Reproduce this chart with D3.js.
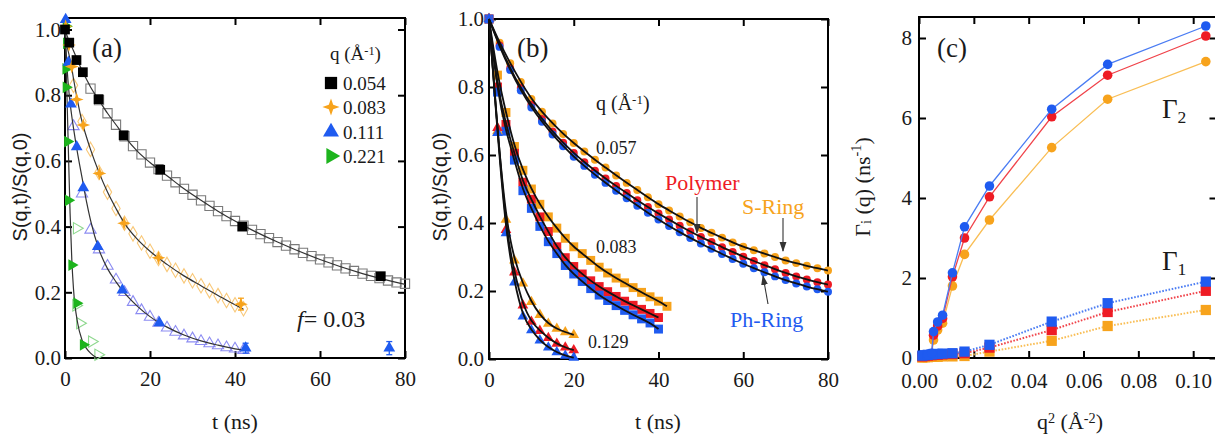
<!DOCTYPE html>
<html><head><meta charset="utf-8">
<script src="https://cdn.jsdelivr.net/npm/d3@7"></script>
<style>body{margin:0;background:#fff}svg{display:block}</style>
</head><body><svg id="c" width="1215" height="438"></svg>
<script>
// ---------------- Panel (a) data ----------------
const aQLabels = ["0.054", "0.083", "0.111", "0.221"];
const aXTicks = [0, 20, 40, 60, 80];
const aYTicks = [0, 0.2, 0.4, 0.6, 0.8, 1.0];
// q = 0.054
const a054FilledT = [0, 1.0, 2.7, 4.2, 7.9, 13.8, 22.4, 41.7, 74.3];
const a054FilledV = [1.0, 0.96, 0.907, 0.87, 0.788, 0.678, 0.573, 0.40, 0.249];
const a054OpenT = [6,8,10,12,14,16,18,20,22,24,26,28,30,32,34,36,38,40,42,44,46,48,50,52,54,56,58,60,62,64,66,68,70,72,74,76,78,80];
const a054OpenV = [0.82,0.785,0.745,0.71,0.675,0.645,0.62,0.595,0.575,0.555,0.535,0.515,0.497,0.48,0.463,0.447,0.432,0.417,0.403,0.39,0.377,0.365,0.353,0.342,0.331,0.32,0.31,0.30,0.291,0.282,0.273,0.265,0.257,0.25,0.243,0.236,0.23,0.226];
// q = 0.083
const a083FilledT = [0.15, 0.94, 1.6, 2.75, 4.3, 8.1, 13.9, 22, 41.4];
const a083FilledV = [1.01, 0.953, 0.887, 0.787, 0.709, 0.562, 0.41, 0.305, 0.164];
const a083OpenT = [2,4,6,8,10,12,14,16,18,20,22,24,26,28,30,32,34,36,38,40,42];
const a083OpenV = [0.83,0.72,0.635,0.565,0.505,0.455,0.41,0.378,0.35,0.325,0.303,0.285,0.267,0.25,0.235,0.22,0.205,0.19,0.175,0.162,0.15];
// q = 0.111
const a111FilledT = [0.15, 0.8, 1.4, 2.75, 4.3, 7.7, 13.5, 22.2, 42.5, 76.3];
const a111FilledV = [1.03, 0.90, 0.773, 0.643, 0.518, 0.339, 0.207, 0.107, 0.03, 0.03];
const a111OpenT = [2,4,6,8,10,12,14,16,18,20,22,24,26,28,30,32,34,36,38,40,42];
const a111OpenV = [0.705,0.50,0.39,0.33,0.28,0.238,0.2,0.17,0.145,0.125,0.107,0.092,0.079,0.068,0.059,0.051,0.044,0.038,0.032,0.028,0.024];
// q = 0.221
const a221FilledT = [0.25, 0.35, 0.2, 0.25, 0.6, 0.8, 1.6, 2.75, 4.3];
const a221FilledV = [1.01, 0.958, 0.88, 0.824, 0.659, 0.48, 0.283, 0.167, 0.04];
const a221OpenT = [2.75, 2.6, 3.5, 6.3, 7.8];
const a221OpenV = [0.395, 0.16, 0.106, 0.05, 0.01];
// fit curves
const aFit054T = [0,0.5,1,1.5,2,3,4,5,6,8,10,12,14,17,20,24,28,32,36,40,42,50,60,70,80];
const aFit054V = [1,0.98,0.965,0.95,0.935,0.905,0.875,0.85,0.825,0.785,0.745,0.71,0.675,0.63,0.595,0.555,0.515,0.48,0.447,0.417,0.403,0.353,0.30,0.257,0.224];
const aFit083T = [0,0.5,1,1.5,2,3,4,5,6,8,10,12,14,17,20,24,28,32,36,40,42];
const aFit083V = [1,0.95,0.92,0.89,0.85,0.78,0.72,0.675,0.635,0.565,0.505,0.455,0.41,0.362,0.325,0.285,0.25,0.22,0.19,0.162,0.148];
const aFit111T = [0,0.5,1,1.5,2,3,4,5,6,8,10,12,14,17,20,24,28,32,36,40,42];
const aFit111V = [1,0.88,0.80,0.745,0.70,0.62,0.55,0.48,0.42,0.33,0.272,0.232,0.198,0.158,0.126,0.094,0.07,0.052,0.039,0.028,0.024];
const aFit221T = [0,0.4,0.8,1.2,1.6,2,3,4,5,6,7.5];
const aFit221V = [1,0.83,0.63,0.44,0.3,0.21,0.105,0.055,0.03,0.015,0.0];
// error bars
const aErrT = [41.4, 42.5, 76.3];
const aErrV = [0.164, 0.03, 0.03];
const aErrE = [0.018, 0.015, 0.02];

// ---------------- Panel (b) data ----------------
const bSpecies = ["S-Ring", "Polymer", "Ph-Ring"];
const bQLabels = ["0.057", "0.083", "0.129"];
const bT057 = [0,2.5,5,7.5,10,12.5,15,17.5,20,22.5,25,27.5,30,32.5,35,37.5,40,42.5,45,47.5,50,52.5,55,57.5,60,62.5,65,67.5,70,72.5,75,77.5,80];
const bS057 = [1.0,0.93,0.87,0.815,0.765,0.727,0.693,0.662,0.635,0.61,0.586,0.563,0.54,0.518,0.497,0.476,0.455,0.437,0.419,0.402,0.385,0.371,0.357,0.343,0.33,0.32,0.31,0.30,0.29,0.282,0.274,0.267,0.26];
const bP057 = [1.0,0.922,0.855,0.797,0.748,0.706,0.669,0.636,0.606,0.579,0.554,0.531,0.509,0.488,0.467,0.447,0.428,0.41,0.392,0.375,0.359,0.344,0.329,0.315,0.301,0.288,0.276,0.264,0.253,0.243,0.234,0.226,0.219];
const bR057 = [1.0,0.918,0.85,0.79,0.74,0.698,0.66,0.626,0.595,0.568,0.542,0.518,0.495,0.473,0.451,0.43,0.41,0.391,0.373,0.356,0.34,0.324,0.309,0.294,0.28,0.267,0.255,0.243,0.232,0.222,0.213,0.205,0.198];
const bT083S = [0,2,4,6,8,10,12,14,16,18,20,22,24,26,28,30,32,34,36,38,40,42];
const bT083 = [0,2,4,6,8,10,12,14,16,18,20,22,24,26,28,30,32,34,36,38,40];
const bS083 = [1.0,0.835,0.725,0.625,0.555,0.50,0.455,0.418,0.385,0.355,0.33,0.31,0.29,0.27,0.253,0.238,0.224,0.21,0.196,0.183,0.17,0.155];
const bP083 = [1.0,0.80,0.69,0.605,0.52,0.47,0.418,0.375,0.33,0.298,0.272,0.25,0.23,0.213,0.198,0.184,0.17,0.158,0.146,0.134,0.122];
const bR083 = [1.0,0.785,0.67,0.585,0.495,0.443,0.39,0.345,0.31,0.275,0.25,0.228,0.207,0.188,0.172,0.157,0.143,0.13,0.118,0.106,0.088];
const bT129 = [0,2,4,6,8,10,12,14,16,18,20];
const bS129 = [1.0,0.67,0.41,0.29,0.222,0.168,0.13,0.104,0.089,0.079,0.071];
const bP129 = [1.0,0.68,0.38,0.255,0.158,0.11,0.083,0.062,0.045,0.034,0.026];
const bR129 = [1.0,0.665,0.37,0.225,0.125,0.085,0.055,0.034,0.02,0.01,0.004];

// ---------------- Panel (c) data ----------------
const cXTicks = [0, 0.02, 0.04, 0.06, 0.08, 0.10];
const cYTicks = [0, 2, 4, 6, 8];
const cQ2G1 = [0.0012,0.0021,0.0032,0.0046,0.0053,0.0068,0.0086,0.0122,0.0166,0.0257,0.0484,0.0688,0.1046];
const cQ2G2 = [0.0032,0.0046,0.0053,0.0068,0.0086,0.0122,0.0166,0.0257,0.0484,0.0688,0.1046];
const g2Blue = [0.08,0.12,0.66,0.9,1.07,2.13,3.28,4.3,6.22,7.34,8.3];
const g2Red = [0.07,0.1,0.57,0.8,0.99,2.03,3.0,4.03,6.03,7.07,8.05];
const g2Orange = [0.05,0.08,0.45,0.7,0.87,1.8,2.59,3.45,5.26,6.47,7.41];
const g1Blue = [0.06,0.07,0.08,0.09,0.1,0.1,0.11,0.12,0.16,0.33,0.91,1.37,1.91];
const g1Red = [0.04,0.05,0.06,0.07,0.08,0.08,0.09,0.1,0.12,0.26,0.7,1.15,1.68];
const g1Orange = [0.01,0.02,0.02,0.03,0.03,0.03,0.04,0.04,0.05,0.16,0.43,0.8,1.2];

// ---------------- drawing ----------------
const svg = d3.select("#c");
const serif = '"Liberation Serif", "Times New Roman", "DejaVu Serif", serif';
const sans = '"Liberation Sans", Arial, "DejaVu Sans", sans-serif';
const COL = {orange:"#f7a31c", red:"#ee1b24", blue:"#1f5bf0", green:"#1db41d",
  lorange:"#f9c878", lblue:"#8c8cf2", lgreen:"#8fd88f", gray:"#7a7a7a"};
const zip = (T, V) => T.map((t, i) => [t, V[i]]);

const defs = svg.append("defs");
defs.append("marker").attr("id","arr").attr("viewBox","0 0 10 10").attr("refX",9).attr("refY",5)
  .attr("markerWidth",9).attr("markerHeight",9).attr("orient","auto-start-reverse")
  .append("path").attr("d","M0,1.5 L10,5 L0,8.5 Z").attr("fill","#333");

const star4 = {draw(ctx, size){ const r = Math.sqrt(size)*0.66, ri = r*0.36;
  for (let i=0;i<8;i++){ const a = i*Math.PI/4 - Math.PI/2, rr = i%2 ? ri : r;
    const px = rr*Math.cos(a), py = rr*Math.sin(a); if (i) ctx.lineTo(px,py); else ctx.moveTo(px,py);} ctx.closePath(); }};

function styleAxis(s){
  s.attr("font-family", null);
  s.select(".domain").remove();
  s.selectAll(".tick line").attr("stroke","#000").attr("stroke-width",2);
  s.selectAll("text").style("font-family",serif).style("font-size","21px").attr("fill","#1a1a1a");
}
function frame(x, y, xt, yt, xf, yf, lpad, bpad){
  const g = svg.append("g");
  const [x0,x1] = x.range(), [y0,y1] = y.range();
  g.append("g").attr("transform",`translate(0,${y0})`).call(d3.axisBottom(x).tickValues(xt).tickFormat(xf).tickSizeInner(-7).tickSizeOuter(0).tickPadding(bpad)).call(styleAxis);
  g.append("g").attr("transform",`translate(0,${y1})`).call(d3.axisTop(x).tickValues(xt).tickFormat("").tickSizeInner(-7).tickSizeOuter(0)).call(styleAxis);
  g.append("g").attr("transform",`translate(${x0},0)`).call(d3.axisLeft(y).tickValues(yt).tickFormat(yf).tickSizeInner(-7).tickSizeOuter(0).tickPadding(lpad)).call(styleAxis);
  g.append("g").attr("transform",`translate(${x1},0)`).call(d3.axisRight(y).tickValues(yt).tickFormat("").tickSizeInner(-7).tickSizeOuter(0)).call(styleAxis);
  g.append("rect").attr("x",x0).attr("y",y1).attr("width",x1-x0).attr("height",y0-y1)
    .attr("fill","none").attr("stroke","#000").attr("stroke-width",2);
}
function pts(x, y, data, type, size, fill, stroke, sw, rot){
  svg.append("g").selectAll("path").data(data).join("path")
    .attr("d", d3.symbol().type(type).size(size))
    .attr("transform", d => `translate(${x(d[0])},${y(d[1])})` + (rot ? ` rotate(${rot})` : ""))
    .attr("fill", fill).attr("stroke", stroke || "none").attr("stroke-width", sw || 0);
}
function line(x, y, data, stroke, sw, curve, dash){
  svg.append("path").datum(data)
    .attr("d", d3.line().x(d => x(d[0])).y(d => y(d[1])).curve(curve || d3.curveLinear))
    .attr("fill","none").attr("stroke",stroke).attr("stroke-width",sw)
    .attr("stroke-dasharray", dash || null);
}
function text(x, y, str, size, opts){
  opts = opts || {};
  const t = svg.append("text").attr("x",x).attr("y",y).style("font-family",opts.font||serif)
    .style("font-size",size+"px").attr("fill",opts.fill||"#1a1a1a").attr("text-anchor",opts.anchor||"start");
  if (str) t.text(str);
  if (opts.italic) t.style("font-style","italic");
  if (opts.rotate) t.attr("transform",`rotate(${opts.rotate},${x},${y})`);
  return t;
}
function rich(t, parts){
  parts.forEach(p => {
    const s = t.append("tspan").text(p.s);
    if (p.sup) s.style("font-size","0.65em").attr("baseline-shift","45%");
    if (p.sub) s.style("font-size","0.65em").attr("baseline-shift","-25%");
    if (p.it) s.style("font-style","italic");
  });
  return t;
}

// ===== Panel (a) =====
const xa = d3.scaleLinear().domain([0, 80]).range([65, 405]);
const ya = d3.scaleLinear().domain([0, 1.035]).range([358, 18]);
frame(xa, ya, aXTicks, aYTicks, d3.format("d"), d3.format(".1f"), 4, 13);

pts(xa, ya, zip(a054OpenT, a054OpenV), d3.symbolSquare, 85, "none", COL.gray, 1.1);
pts(xa, ya, zip(a083OpenT, a083OpenV), d3.symbolDiamond, 60, "none", COL.lorange, 1.1);
pts(xa, ya, zip(a111OpenT, a111OpenV), d3.symbolTriangle, 55, "none", COL.lblue, 1.1);
pts(xa, ya, zip(a221OpenT, a221OpenV), d3.symbolTriangle, 55, "none", COL.lgreen, 1.1, 90);

line(xa, ya, zip(aFit054T, aFit054V), "#333", 1.2, d3.curveMonotoneX);
line(xa, ya, zip(aFit083T, aFit083V), "#333", 1.2, d3.curveMonotoneX);
line(xa, ya, zip(aFit111T, aFit111V), "#333", 1.2, d3.curveMonotoneX);
line(xa, ya, zip(aFit221T, aFit221V), "#333", 1.2, d3.curveMonotoneX);

// error bars
aErrT.forEach((t, i) => {
  const c = i === 0 ? COL.orange : COL.blue;
  const g = svg.append("g").attr("stroke", c).attr("stroke-width", 1.3);
  g.append("line").attr("x1",xa(t)).attr("x2",xa(t)).attr("y1",ya(aErrV[i]-aErrE[i])).attr("y2",ya(aErrV[i]+aErrE[i]));
  [aErrV[i]-aErrE[i], aErrV[i]+aErrE[i]].forEach(v => g.append("line").attr("x1",xa(t)-3).attr("x2",xa(t)+3).attr("y1",ya(v)).attr("y2",ya(v)));
});

pts(xa, ya, zip(a221FilledT, a221FilledV), d3.symbolTriangle, 60, COL.green, null, 0, 90);
pts(xa, ya, zip(a111FilledT, a111FilledV), d3.symbolTriangle, 60, COL.blue);
pts(xa, ya, zip(a083FilledT, a083FilledV), star4, 110, COL.orange);
pts(xa, ya, zip(a054FilledT, a054FilledV), d3.symbolSquare, 95, "#000");

text(92, 57, "(a)", 27);
rich(text(330, 60, "", 19), [{s:"q (Å"},{s:"-1",sup:true},{s:")"}]);
const legY = [83, 107, 132, 156];
const legSym = [d3.symbolSquare, star4, d3.symbolTriangle, d3.symbolTriangle];
const legSize = [150, 170, 110, 110];
const legCol = ["#000", COL.orange, COL.blue, COL.green];
aQLabels.forEach((lab, i) => {
  svg.append("path").attr("d", d3.symbol().type(legSym[i]).size(legSize[i])())
    .attr("transform", `translate(331,${legY[i]})` + (i === 3 ? " rotate(90)" : ""))
    .attr("fill", legCol[i]);
  text(343, legY[i] + 7, lab, 19);
});
rich(text(297, 327, "", 24), [{s:"f", it:true},{s:"= 0.03"}]);
text(20, 187, "S(q,t)/S(q,0)", 20, {font: sans, anchor: "middle", rotate: -90}).attr("dominant-baseline","central");
text(235, 429, "t (ns)", 22, {anchor: "middle"});

// ===== Panel (b) =====
const xb = d3.scaleLinear().domain([0, 80]).range([489, 828]);
const yb = d3.scaleLinear().domain([0, 1]).range([359, 19]);
frame(xb, yb, aXTicks, aYTicks, d3.format("d"), d3.format(".1f"), 5, 13);

const bSets = [
  {T: bT057, S: bS057, TS: bT057, P: bP057, R: bR057, sym: d3.symbolCircle, size: 50},
  {T: bT083, S: bS083, TS: bT083S, P: bP083, R: bR083, sym: d3.symbolSquare, size: 80},
  {T: bT129, S: bS129, TS: bT129, P: bP129, R: bR129, sym: d3.symbolTriangle, size: 50}
];
bSets.forEach(s => {
  pts(xb, yb, zip(s.TS, s.S), s.sym, s.size, COL.orange);
  pts(xb, yb, zip(s.T, s.P), s.sym, s.size, COL.red);
  pts(xb, yb, zip(s.T, s.R), s.sym, s.size, COL.blue);
});
bSets.forEach(s => {
  line(xb, yb, zip(s.TS, s.S), "#111", 1.8, d3.curveBasis);
  line(xb, yb, zip(s.T, s.P), "#111", 1.8, d3.curveBasis);
  line(xb, yb, zip(s.T, s.R), "#111", 1.8, d3.curveBasis);
});

text(517, 57, "(b)", 27);
rich(text(596, 110, "", 20), [{s:"q (Å"},{s:"-1",sup:true},{s:")"}]);
text(596, 154, bQLabels[0], 18);
text(596, 253, bQLabels[1], 18);
text(588, 348, bQLabels[2], 18);
text(665, 190, bSpecies[1], 22, {fill: COL.red});
text(742, 214, bSpecies[0], 22, {fill: COL.orange});
text(730, 327, bSpecies[2], 22, {fill: COL.blue});
const arrows = [[697,197,697,233],[783,218,783,251],[768,304,763,276]];
arrows.forEach(a => svg.append("line").attr("x1",a[0]).attr("y1",a[1]).attr("x2",a[2]).attr("y2",a[3])
  .attr("stroke","#333").attr("stroke-width",1.1).attr("marker-end","url(#arr)"));
text(440, 187, "S(q,t)/S(q,0)", 20, {font: sans, anchor: "middle", rotate: -90}).attr("dominant-baseline","central");
text(658, 429, "t (ns)", 22, {anchor: "middle"});

// ===== Panel (c) =====
const xc = d3.scaleLinear().domain([0, 0.1085]).range([919, 1216.5]);
const yc = d3.scaleLinear().domain([0, 8.525]).range([358, 17]);
frame(xc, yc, cXTicks, cYTicks, d3.format(".2f"), d3.format("d"), 7, 15);

const cLight = {orange:"#f9be55", red:"#f0434a", blue:"#4a7cf3"};
[["orange", g1Orange, g2Orange], ["red", g1Red, g2Red], ["blue", g1Blue, g2Blue]].forEach(([k, g1, g2]) => {
  line(xc, yc, zip(cQ2G1, g1), cLight[k], 2, d3.curveLinear, "1.6,1.6");
  line(xc, yc, zip(cQ2G2, g2), cLight[k], 1.3);
  pts(xc, yc, zip(cQ2G1, g1), d3.symbolSquare, 105, COL[k]);
  pts(xc, yc, zip(cQ2G2, g2), d3.symbolCircle, 72, COL[k]);
});

text(937, 57, "(c)", 27);
rich(text(1162, 118, "", 27), [{s:"Γ"},{s:"2",sub:true}]);
rich(text(1162, 270, "", 27), [{s:"Γ"},{s:"1",sub:true}]);
rich(text(862, 187, "", 22, {anchor: "middle", rotate: -90}).attr("dominant-baseline","central"),
  [{s:"Γ"},{s:"i",sub:true},{s:" (q) (ns"},{s:"-1",sup:true},{s:")"}]);
rich(text(1070, 429, "", 22, {anchor: "middle"}), [{s:"q"},{s:"2",sup:true},{s:" (Å"},{s:"-2",sup:true},{s:")"}]);
</script></body></html>
